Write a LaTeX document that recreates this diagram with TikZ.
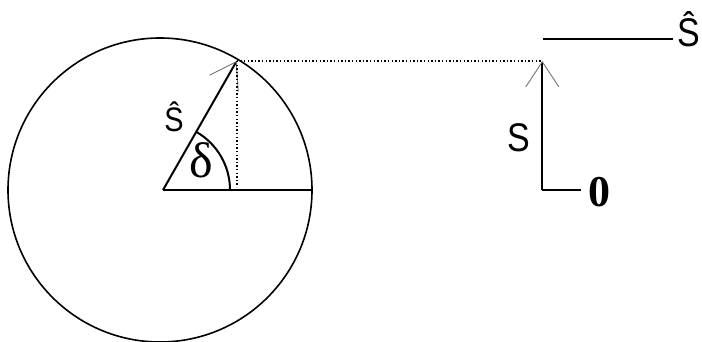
\documentclass[tikz,border=0pt]{standalone}
\usepackage{fontspec}
\newfontfamily\sansfnt[FakeStretch=0.85]{Liberation Sans}
\newfontfamily\seriffnt{Liberation Serif}
\usetikzlibrary{arrows.meta, calc}

\begin{document}
\begin{tikzpicture}[
    x=0.5pt, y=0.5pt,
    circ/.style     = {line width=0.8pt, draw=black},
    mainline/.style = {line width=1pt, draw=black},
    vec/.style      = {mainline,
                       -{Straight Barb[length=12.5pt, width=16.5pt,
                                       line width=0.45pt, color=black!55]}},
    proj/.style     = {line width=1pt, draw=black,
                       dash pattern=on 0.7pt off 1.1pt},
    symlbl/.style   = {inner sep=0pt, anchor=base west,
                       font=\sansfnt\fontsize{20}{20}\selectfont},
    greeklbl/.style = {inner sep=0pt, anchor=base west,
                       font=\seriffnt\fontsize{25}{25}\selectfont},
    numlbl/.style   = {inner sep=0pt, anchor=base west,
                       font=\seriffnt\bfseries\fontsize{22}{22}\selectfont},
]
\useasboundingbox (0,0) rectangle (702,342);

%% ============================================================
%% COORDINATES
%% ============================================================
\coordinate (C)  at (160,152);      % circle centre
\coordinate (O)  at (163,152);      % origin of the phasor
\coordinate (E)  at (312.5,152);    % right edge of the circle
\coordinate (P)  at (236.7,281);    % phasor tip
\coordinate (F)  at (236.7,155);    % foot of the projection
\coordinate (R)  at (542.3,281);    % tip of the projected vector
\coordinate (B)  at (542.3,152);    % base of the projected vector
\coordinate (Z)  at (581,152);      % zero mark
\coordinate (M1) at (542.7,303);    % maximum level
\coordinate (M2) at (673,303);

%% ============================================================
%% CIRCLE AND PHASOR
%% ============================================================
\draw[circ] (C) circle[radius=152];
\draw[mainline] (O) -- (E);
\draw[vec] (O) -- (P);
\draw[mainline] ($(O)+(67,0)$) arc[start angle=0, end angle=60, radius=67];

%% projection
\draw[proj] (P) -- (F);
\draw[proj] (P) -- (R);

%% ============================================================
%% PROJECTED VECTOR
%% ============================================================
\draw[vec] (B) -- (R);
\draw[mainline] (B) -- (Z);
\draw[mainline] (M1) -- (M2);

%% ============================================================
%% LABELS
%% ============================================================
\node[symlbl, font=\sansfnt\fontsize{17}{17}\selectfont] (shat)  at (164,210.3) {Ŝ};
\node[greeklbl] (delta) at (189,164) {δ};
\node[symlbl]   (s)     at (507,190.3) {S};
\node[numlbl]   (zero)  at (588,135.3) {0};
\node[symlbl]   (smax)  at (677,295.3) {Ŝ};

\end{tikzpicture}
\end{document}
